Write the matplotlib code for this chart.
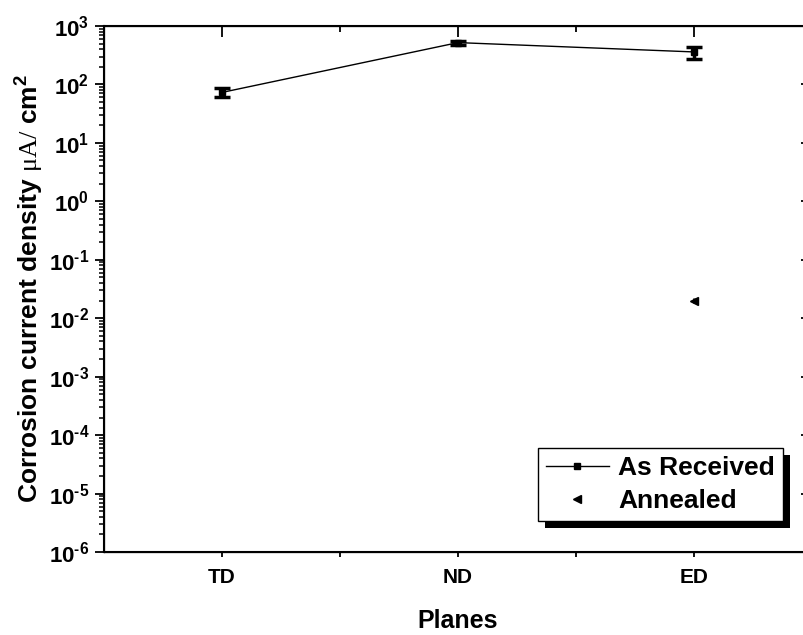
import numpy as np
import matplotlib
matplotlib.use('Agg')
import matplotlib.pyplot as plt
from matplotlib.patches import Rectangle
from matplotlib.transforms import IdentityTransform
from matplotlib.ticker import LogLocator, FuncFormatter, NullFormatter, FixedLocator

# donnees
planes = ['TD', 'ND', 'ED']
as_received = [73, 520, 360]
as_received_err = [13, 40, 85]
annealed_planes = ['ED']
annealed = [0.02]
annealed_err = [0.002]

plt.rcParams['font.family'] = 'Liberation Sans'
plt.rcParams['mathtext.fontset'] = 'custom'
plt.rcParams['mathtext.rm'] = 'Liberation Serif'
plt.rcParams['mathtext.it'] = 'Liberation Serif:italic'
plt.rcParams['mathtext.bf'] = 'Liberation Sans:bold'

fig = plt.figure(figsize=(8.04, 6.35), dpi=100)
ax = fig.add_axes([104/804, 83/635, 708/804, 526/635])

xpos = np.arange(len(planes)) + 1
xa = [planes.index(p) + 1 for p in annealed_planes]

# As Received
ax.errorbar(xpos, as_received, yerr=as_received_err, fmt='none', ecolor='k',
            elinewidth=2.5, capsize=6, capthick=2.5)
l1, = ax.plot(xpos, as_received, '-s', color='k', lw=1, ms=5, label='As Received')

# Annealed
ax.errorbar(xa, annealed, yerr=annealed_err, fmt='none', ecolor='k',
            elinewidth=2, capsize=0)
l2, = ax.plot(xa, annealed, '<', color='k', ms=6, ls='none', label='Annealed')

ax.set_yscale('log')
ax.set_ylim(1e-6, 1e3)
ax.set_xlim(0.5, len(planes) + 0.5)


def fmt_log(v, p):
    e = int(round(np.log10(v)))
    if e < 0:
        return '$\\mathbf{10^{\u2010%d}}$' % (-e)
    return '$\\mathbf{10^{%d}}$' % e


ax.set_xticks(xpos)
ax.set_xticklabels(planes, fontweight='bold', fontsize=15)
ax.xaxis.set_minor_locator(FixedLocator(xpos[:-1] + 0.5))
ax.yaxis.set_major_locator(LogLocator(base=10, numticks=20))
ax.yaxis.set_minor_locator(LogLocator(base=10, subs=np.arange(2, 10), numticks=20))
ax.yaxis.set_minor_formatter(NullFormatter())
ax.yaxis.set_major_formatter(FuncFormatter(fmt_log))

ax.tick_params(axis='x', which='both', bottom=True, top=False, direction='out',
               length=3.6, width=1.3, pad=8)
ax.tick_params(axis='y', which='major', left=True, right=False, direction='out',
               length=6.5, width=1.3, pad=4, labelsize=16)
ax.tick_params(axis='y', which='minor', left=True, right=False, direction='out',
               length=3.6, width=1.1)
for s in ax.spines.values():
    s.set_linewidth(1.5)

# ticks du haut et de droite (vers l'interieur)
axt = ax.twiny()
axt.set_xlim(ax.get_xlim())
axt.set_xticks(xpos)
axt.xaxis.set_minor_locator(FixedLocator(xpos[:-1] + 0.5))
axt.tick_params(axis='x', which='major', direction='in', length=8, width=1.3, labeltop=False)
axt.tick_params(axis='x', which='minor', direction='in', length=4.3, width=1.3)

axr = ax.twinx()
axr.set_yscale('log')
axr.set_ylim(ax.get_ylim())
axr.yaxis.set_major_locator(LogLocator(base=10, numticks=20))
axr.tick_params(axis='y', which='major', direction='in', length=8, width=1.3, labelright=False)
axr.tick_params(axis='y', which='minor', direction='in', length=3.6, width=1.1)
axr.yaxis.set_minor_formatter(NullFormatter())

ax.set_xlabel('Planes', fontsize=18, fontweight='bold', va='center')
ax.xaxis.set_label_coords(0.5, -0.131)
ax.set_ylabel(r'Corrosion current density $\mathrm{\mu A/}$ $\mathbf{cm^{2}}$',
              fontsize=19, fontweight='bold', va='center')
ax.yaxis.set_label_coords(-0.1045, 0.5)

leg = ax.legend(handles=[l1, l2], loc='lower right', bbox_to_anchor=(0.959, 0.059),
                borderaxespad=0, prop={'weight': 'bold', 'size': 19},
                handlelength=2.4, handletextpad=0.35, borderpad=0.3,
                labelspacing=0.35, fancybox=False, edgecolor='k', framealpha=1,
                numpoints=1)
leg.get_frame().set_linewidth(1)

# ombre noire de la legende
fig.canvas.draw()
bb = leg.get_window_extent()
shadow = Rectangle((bb.x0 + 7, bb.y0 - 7), bb.width, bb.height, facecolor='k',
                   edgecolor='none', transform=IdentityTransform(), zorder=4.5)
ax.add_artist(shadow)

fig.savefig('out.png', dpi=100)
